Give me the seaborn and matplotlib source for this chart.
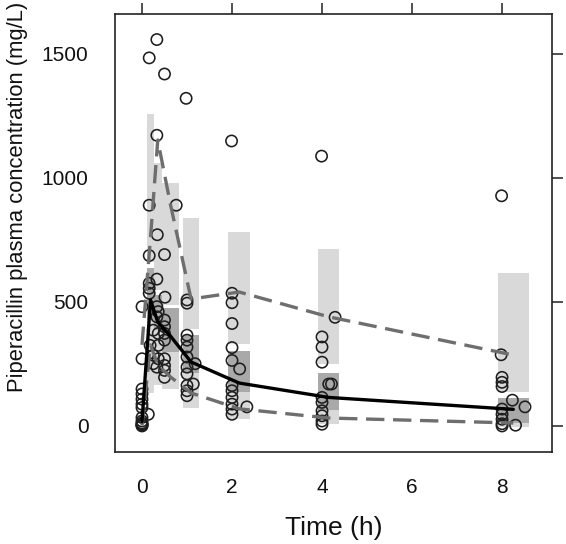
import matplotlib
matplotlib.use("Agg")
import matplotlib.pyplot as plt
import seaborn as sns
import numpy as np
import pandas as pd

# ---------------- data ----------------
# observed concentrations (time h, mg/L)
obs_time = [0.0, 0.0, 0.0, 0.0, 0.0, 0.0, 0.0, 0.0, 0.0, 0.0, 0.0, 0.0, 0.0, 0.0, 0.14,
            0.16, 0.16, 0.16, 0.16, 0.16, 0.16, 0.18, 0.25, 0.25, 0.25,
            0.33, 0.33, 0.34, 0.33, 0.33, 0.36, 0.33, 0.36, 0.36, 0.36, 0.33,
            0.50, 0.50, 0.51, 0.50, 0.50, 0.50, 0.50, 0.50, 0.50, 0.50, 0.50, 0.76,
            0.98, 1.0, 1.0, 1.0, 1.0, 1.0, 1.0, 1.0, 1.0, 1.18, 1.14, 1.0, 1.0, 1.0,
            1.99, 2.0, 2.0, 2.0, 2.0, 2.0, 2.17, 2.0, 2.0, 2.0, 2.0, 2.0, 2.0, 2.33,
            3.99, 4.0, 4.0, 4.0, 4.15, 4.21, 4.0, 4.0, 4.0, 4.0, 4.0, 4.0, 4.29,
            7.99, 7.98, 8.0, 8.0, 8.0, 8.23, 8.51, 8.0, 8.0, 8.0, 8.0, 8.0, 8.3]
obs_conc = [481, 271, 149, 129, 108, 88, 74, 34, 20, 7, 2, 12, 5, 0, 47,
            1484, 890, 687, 575, 555, 535, 325, 386, 285, 251,
            1558, 1172, 771, 592, 481, 461, 440, 373, 325, 271, 237,
            1419, 691, 519, 427, 400, 373, 346, 271, 244, 224, 196, 890,
            1321, 508, 495, 366, 346, 318, 278, 237, 210, 251, 169, 163, 142, 122,
            1149, 535, 497, 413, 316, 264, 230, 163, 142, 115, 88, 68, 47, 77,
            1088, 359, 318, 257, 169, 169, 115, 95, 61, 41, 20, 7, 438,
            928, 287, 196, 176, 159, 104, 77, 68, 47, 27, 9, 0, 3]

# observed percentiles at bin midpoints
bin_mid = [0.0, 0.19, 0.35, 0.63, 1.09, 2.16, 4.15, 8.25]
obs_p50 = [17, 508, 419, 363, 258, 173, 115, 67]
obs_p95 = [327, 762, 1153, 895, 512, 540, 440, 286]
obs_p05 = [2, 327, 246, 198, 133, 69, 32, 12]

# simulated prediction intervals per bin
bin_lo = [0.104, 0.267, 0.438, 0.918, 1.918, 3.918, 7.904]
bin_hi = [0.267, 0.438, 0.822, 1.273, 2.400, 4.384, 8.600]
pi95_lo = [661, 548, 488, 391, 329, 250, 137]
pi95_hi = [1258, 1059, 979, 840, 783, 712, 616]
pi50_lo = [427, 387, 298, 214, 138, 65, 13]
pi50_hi = [637, 528, 476, 367, 302, 215, 112]
pi05_lo = [133, 165, 149, 71, 27, 8, -4]
pi05_hi = [427, 387, 298, 214, 138, 65, 13]

# ---------------- style ----------------
sns.set_style("white")
plt.rcParams['font.family'] = ['Liberation Sans', 'DejaVu Sans']

fig = plt.figure(figsize=(5.66, 5.44), dpi=100)
ax = fig.add_axes([115/566, 1-452/544, (552-115)/566, (452-14)/544])

light = "#d9d9d9"
dark = "#a9a9a9"
widths = np.array(bin_hi) - np.array(bin_lo)

ax.bar(bin_lo, np.array(pi95_hi) - np.array(pi95_lo), width=widths, bottom=pi95_lo,
       align='edge', color=light, linewidth=0, zorder=1)
ax.bar(bin_lo, np.array(pi05_hi) - np.array(pi05_lo), width=widths, bottom=pi05_lo,
       align='edge', color=light, linewidth=0, zorder=1)
ax.bar(bin_lo, np.array(pi50_hi) - np.array(pi50_lo), width=widths, bottom=pi50_lo,
       align='edge', color=dark, linewidth=0, zorder=1)

df = pd.DataFrame({"t": obs_time, "c": obs_conc})
sns.scatterplot(data=df, x="t", y="c", ax=ax, marker='o', s=66, zorder=3)
pts = ax.collections[-1]
pts.set_facecolor('none')
pts.set_edgecolor('#1e1e1e')
pts.set_linewidth(1.15)

sns.lineplot(x=bin_mid, y=obs_p95, ax=ax, color='#6e6e6e', lw=2.4, sort=False, zorder=4)
ax.lines[-1].set_dashes((5.5, 2.6))
sns.lineplot(x=bin_mid, y=obs_p05, ax=ax, color='#6e6e6e', lw=2.4, sort=False, zorder=4)
ax.lines[-1].set_dashes((5.5, 2.6))
sns.lineplot(x=bin_mid, y=obs_p50, ax=ax, color='black', lw=2.4, sort=False, zorder=5)

ax.set_xlim(-0.6, 9.11)
ax.set_ylim(-105, 1661)
ax.set_xticks([0, 2, 4, 6, 8])
ax.set_yticks([0, 500, 1000, 1500])
ax.tick_params(direction='out', length=8, width=1.1, color='#222222',
               top=True, right=True, labeltop=False, labelright=False,
               labelsize=15, pad=11, labelcolor='#111111')
for sp in ax.spines.values():
    sp.set_linewidth(1.2)
    sp.set_color('#222222')

ax.set_xlabel("Time (h)", fontsize=19, color='#111111')
ax.xaxis.label.set_va('center')
ax.xaxis.set_label_coords(0.5, (452-528)/438)
ax.set_ylabel("Piperacillin plasma concentration (mg/L)", fontsize=15.8, color='#111111')
ax.yaxis.label.set_va('center')
ax.yaxis.set_label_coords((18-115)/437, (452-197)/438)

fig.savefig("out.png", dpi=100)
